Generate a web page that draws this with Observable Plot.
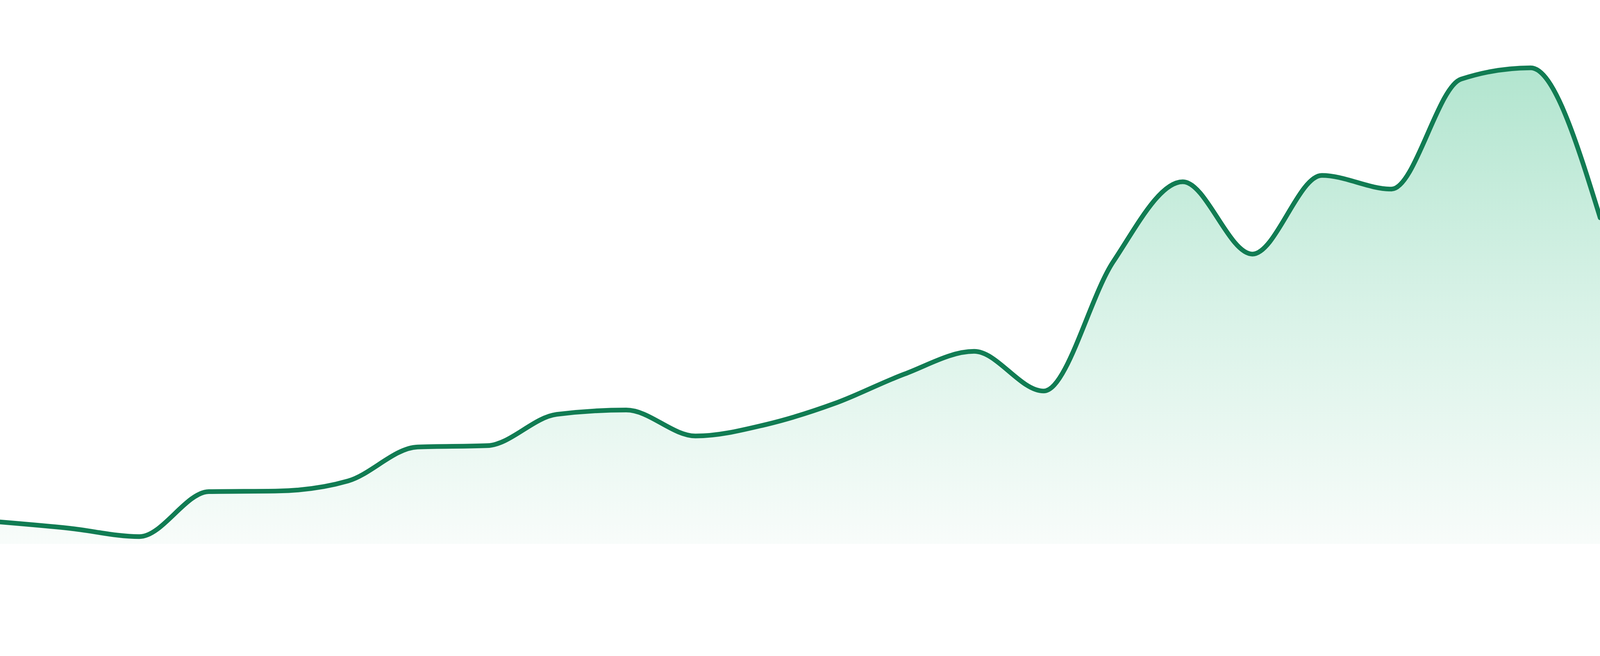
<!DOCTYPE html>
<html>
<head>
<meta charset="utf-8">
<script src="https://cdn.jsdelivr.net/npm/d3@7"></script>
<script src="https://cdn.jsdelivr.net/npm/@observablehq/plot@0.6"></script>
<style>
  html, body { margin: 0; padding: 0; background: #ffffff; }
  #chart svg { display: block; }
</style>
</head>
<body>
<div id="chart"></div>
<script>
// Period index (24 evenly spaced samples) and the series value at each
const periods = d3.range(24);
const values = [6.6, 4.7, 2.2, 15.7, 15.9, 18.9, 29.1, 29.5, 38.9, 40.2, 32.4, 35.8,
                42.2, 51.0, 57.8, 45.9, 84.7, 108.7, 87.0, 110.6, 106.5, 139.5, 142.9, 97.9];
const yDomain = [0, 160];

const data = periods.map((p, i) => ({period: p, value: values[i]}));

const gradientDefs = () => {
  const defs = d3.create("svg:defs");
  const g = defs.append("linearGradient")
    .attr("id", "areaFade")
    .attr("x1", 0).attr("y1", 0).attr("x2", 0).attr("y2", 1);
  g.append("stop").attr("offset", "0%").attr("stop-color", "#b2e5cf");
  g.append("stop").attr("offset", "50%").attr("stop-color", "#d8f2e7");
  g.append("stop").attr("offset", "100%").attr("stop-color", "#f8fcfa");
  return defs.node();
};

const chart = Plot.plot({
  width: 4800,
  height: 1680,
  marginLeft: 0,
  marginRight: 0,
  marginTop: 32,
  marginBottom: 48,
  x: {domain: [0, 23], axis: null},
  y: {domain: yDomain, axis: null},
  marks: [
    gradientDefs,
    Plot.areaY(data, {x: "period", y: "value", curve: "monotone-x", fill: "url(#areaFade)"}),
    Plot.lineY(data, {x: "period", y: "value", curve: "monotone-x", stroke: "#117c53", strokeWidth: 14})
  ]
});

document.getElementById("chart").appendChild(chart);
</script>
</body>
</html>
